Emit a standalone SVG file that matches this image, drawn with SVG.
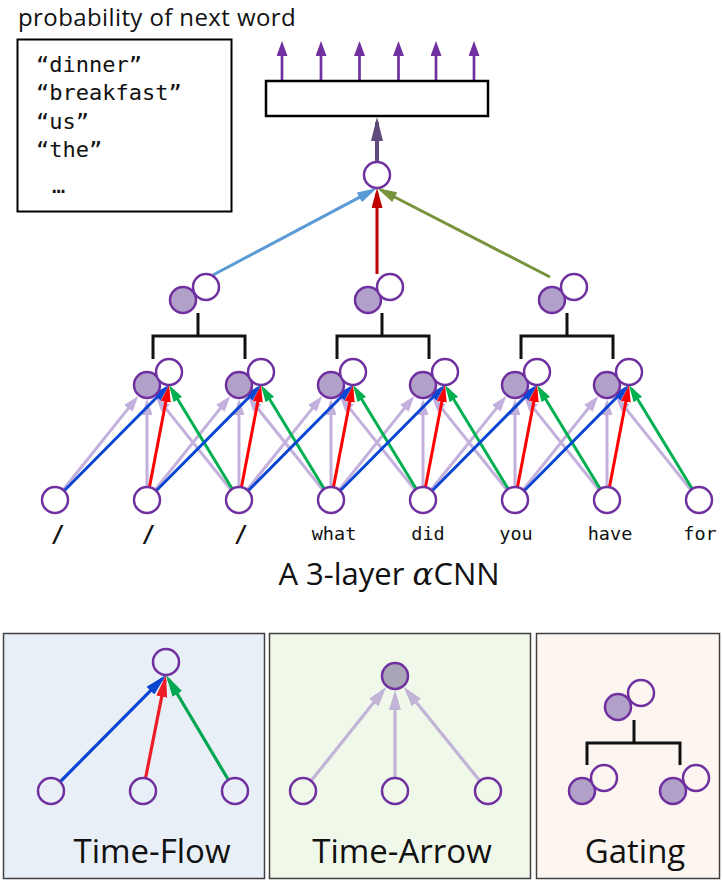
<svg xmlns="http://www.w3.org/2000/svg" width="722" height="883" viewBox="0 0 722 883">
<style>
.n{fill:#fff;stroke:#7030a0;stroke-width:2.5}
.f{fill:#b1a0c7;stroke:#7030a0;stroke-width:2.5}
.br{fill:none;stroke:#111;stroke-width:3}
.blue{stroke:#0a46d2;stroke-width:3;fill:none}
.red{stroke:#ff0000;stroke-width:3;fill:none}
.green{stroke:#00b050;stroke-width:3;fill:none}
.lp{stroke:#c3b0dc;stroke-width:3;fill:none}
.sans{font-family:"Open Sans","Liberation Sans",sans-serif;fill:#111}
.mono{font-family:"DejaVu Sans Mono","Liberation Mono",monospace;fill:#111}
.panel{stroke:#404040;stroke-width:1.5}
</style>
<defs>
<marker id="hBlue" markerUnits="userSpaceOnUse" markerWidth="17" markerHeight="10" refX="12" refY="5" orient="auto"><path d="M0,0 L17,5 L0,10 z" fill="#0a46d2"/></marker>
<marker id="hRed" markerUnits="userSpaceOnUse" markerWidth="17" markerHeight="10" refX="12" refY="5" orient="auto"><path d="M0,0 L17,5 L0,10 z" fill="#ff0000"/></marker>
<marker id="hGreen" markerUnits="userSpaceOnUse" markerWidth="17" markerHeight="10" refX="12" refY="5" orient="auto"><path d="M0,0 L17,5 L0,10 z" fill="#00b050"/></marker>
<marker id="hLp" markerUnits="userSpaceOnUse" markerWidth="16" markerHeight="11" refX="11" refY="5.5" orient="auto"><path d="M0,0 L16,5.5 L0,11 z" fill="#c3b0dc"/></marker>
<marker id="hLp2" markerUnits="userSpaceOnUse" markerWidth="20" markerHeight="12" refX="15" refY="6" orient="auto"><path d="M0,0 L20,6 L0,12 z" fill="#c2b4d6"/></marker>
<marker id="hBlue2" markerUnits="userSpaceOnUse" markerWidth="22" markerHeight="11" refX="17" refY="5.5" orient="auto"><path d="M0,0 L22,5.5 L0,11 z" fill="#0a46d2"/></marker>
<marker id="hRed2" markerUnits="userSpaceOnUse" markerWidth="22" markerHeight="11" refX="17" refY="5.5" orient="auto"><path d="M0,0 L22,5.5 L0,11 z" fill="#ee1c24"/></marker>
<marker id="hGreen2" markerUnits="userSpaceOnUse" markerWidth="22" markerHeight="11" refX="17" refY="5.5" orient="auto"><path d="M0,0 L22,5.5 L0,11 z" fill="#00a651"/></marker>
<marker id="hTB" markerUnits="userSpaceOnUse" markerWidth="20" markerHeight="11" refX="15" refY="5.5" orient="auto"><path d="M0,0 L20,5.5 L0,11 z" fill="#5b9bd5"/></marker>
<marker id="hTR" markerUnits="userSpaceOnUse" markerWidth="20" markerHeight="11" refX="15" refY="5.5" orient="auto"><path d="M0,0 L20,5.5 L0,11 z" fill="#c00000"/></marker>
<marker id="hTG" markerUnits="userSpaceOnUse" markerWidth="20" markerHeight="11" refX="15" refY="5.5" orient="auto"><path d="M0,0 L20,5.5 L0,11 z" fill="#77933c"/></marker>
<marker id="hOut" markerUnits="userSpaceOnUse" markerWidth="24" markerHeight="12" refX="19" refY="6" orient="auto"><path d="M0,0 L24,6 L0,12 z" fill="#604a7b"/></marker>
<marker id="hPur" markerUnits="userSpaceOnUse" markerWidth="15" markerHeight="11" refX="10" refY="5.5" orient="auto"><path d="M0,0 L15,5.5 L0,11 z" fill="#7030a0"/></marker>
</defs>

<g id="panels">
<rect id="panel-time-flow" class="panel" x="3.5" y="633.5" width="261" height="245" fill="#e9eff7"/>
<rect id="panel-time-arrow" class="panel" x="269.5" y="633.5" width="261" height="245" fill="#f0f8e9"/>
<rect id="panel-gating" class="panel" x="536.5" y="633.5" width="183" height="245" fill="#fdf6f0"/>
</g>

<g id="connectors">
<g id="light-purple">
<path class="lp" marker-end="url(#hLp)" d="M55,500 L135.13,399.83"/>
<path class="lp" marker-end="url(#hLp)" d="M147,500 L147,404"/>
<path class="lp" marker-end="url(#hLp)" d="M239,500 L158.87,399.83"/>
<path class="lp" marker-end="url(#hLp)" d="M147,500 L227.13,399.83"/>
<path class="lp" marker-end="url(#hLp)" d="M239,500 L239,404"/>
<path class="lp" marker-end="url(#hLp)" d="M331,500 L250.87,399.83"/>
<path class="lp" marker-end="url(#hLp)" d="M239,500 L319.13,399.83"/>
<path class="lp" marker-end="url(#hLp)" d="M331,500 L331,404"/>
<path class="lp" marker-end="url(#hLp)" d="M423,500 L342.87,399.83"/>
<path class="lp" marker-end="url(#hLp)" d="M331,500 L411.13,399.83"/>
<path class="lp" marker-end="url(#hLp)" d="M423,500 L423,404"/>
<path class="lp" marker-end="url(#hLp)" d="M515,500 L434.87,399.83"/>
<path class="lp" marker-end="url(#hLp)" d="M423,500 L503.13,399.83"/>
<path class="lp" marker-end="url(#hLp)" d="M515,500 L515,404"/>
<path class="lp" marker-end="url(#hLp)" d="M607,500 L526.87,399.83"/>
<path class="lp" marker-end="url(#hLp)" d="M515,500 L595.13,399.83"/>
<path class="lp" marker-end="url(#hLp)" d="M607,500 L607,404"/>
<path class="lp" marker-end="url(#hLp)" d="M699,500 L618.87,399.83"/>
</g>
<g id="green-arrows">
<path class="green" marker-end="url(#hGreen)" d="M239,500 L171.60,389.27"/>
<path class="green" marker-end="url(#hGreen)" d="M331,500 L263.60,389.27"/>
<path class="green" marker-end="url(#hGreen)" d="M423,500 L355.60,389.27"/>
<path class="green" marker-end="url(#hGreen)" d="M515,500 L447.60,389.27"/>
<path class="green" marker-end="url(#hGreen)" d="M607,500 L539.60,389.27"/>
<path class="green" marker-end="url(#hGreen)" d="M699,500 L631.60,389.27"/>
</g>
<g id="red-arrows">
<path class="red" marker-end="url(#hRed)" d="M147,500 L168.06,389.91"/>
<path class="red" marker-end="url(#hRed)" d="M239,500 L260.06,389.91"/>
<path class="red" marker-end="url(#hRed)" d="M331,500 L352.06,389.91"/>
<path class="red" marker-end="url(#hRed)" d="M423,500 L444.06,389.91"/>
<path class="red" marker-end="url(#hRed)" d="M515,500 L536.06,389.91"/>
<path class="red" marker-end="url(#hRed)" d="M607,500 L628.06,389.91"/>
</g>
<g id="blue-arrows">
<path class="blue" marker-end="url(#hBlue)" d="M55,500 L165.48,388.55"/>
<path class="blue" marker-end="url(#hBlue)" d="M147,500 L257.48,388.55"/>
<path class="blue" marker-end="url(#hBlue)" d="M239,500 L349.48,388.55"/>
<path class="blue" marker-end="url(#hBlue)" d="M331,500 L441.48,388.55"/>
<path class="blue" marker-end="url(#hBlue)" d="M423,500 L533.48,388.55"/>
<path class="blue" marker-end="url(#hBlue)" d="M515,500 L625.48,388.55"/>
</g>
<g id="top-arrows">
<path d="M213,275 L372.58,190.34" stroke="#5b9bd5" stroke-width="3" marker-end="url(#hTB)"/>
<path d="M377,274 L377,193" stroke="#c00000" stroke-width="3" marker-end="url(#hTR)"/>
<path d="M550,277 L381.45,190.29" stroke="#77933c" stroke-width="3" marker-end="url(#hTG)"/>
<path d="M377,162 L377,122" stroke="#604a7b" stroke-width="4" marker-end="url(#hOut)"/>
</g>
<g id="output-arrows" stroke="#7030a0" stroke-width="2.7">
<path d="M282,81 L282,46" marker-end="url(#hPur)"/>
<path d="M321,81 L321,46" marker-end="url(#hPur)"/>
<path d="M359.5,81 L359.5,46" marker-end="url(#hPur)"/>
<path d="M398.5,81 L398.5,46" marker-end="url(#hPur)"/>
<path d="M436,81 L436,46" marker-end="url(#hPur)"/>
<path d="M474,81 L474,46" marker-end="url(#hPur)"/>
</g>
<g id="panel-connectors">
<path d="M51,791 L162.48,678.55" stroke="#0a46d2" stroke-width="3.2" marker-end="url(#hBlue2)"/>
<path d="M143,791 L165.03,679.90" stroke="#ee1c24" stroke-width="3.2" marker-end="url(#hRed2)"/>
<path d="M235,791 L168.56,679.30" stroke="#00a651" stroke-width="3.2" marker-end="url(#hGreen2)"/>
<path d="M303,791 L383.13,690.83" stroke="#c2b4d6" stroke-width="3.2" marker-end="url(#hLp2)"/>
<path d="M395,791 L395,695" stroke="#c2b4d6" stroke-width="3.2" marker-end="url(#hLp2)"/>
<path d="M488,791 L406.94,690.78" stroke="#c2b4d6" stroke-width="3.2" marker-end="url(#hLp2)"/>
<path class="br" d="M634,720 L634,743 M587,765 L587,743 L680,743 L680,765"/>
</g>
<g id="brackets">
<path class="br" d="M198,313 L198,336 M153,359 L153,336 L245,336 L245,359"/>
<path class="br" d="M382,313 L382,336 M337,359 L337,336 L429,336 L429,359"/>
<path class="br" d="M567,313 L567,336 M521,359 L521,336 L613,336 L613,359"/>
</g>
</g>

<text class="sans" x="18" y="26" font-size="24" letter-spacing="0.4">probability of next word</text>
<g id="vocab-box">
<rect x="17.5" y="39.5" width="214" height="172" fill="#fff" stroke="#000" stroke-width="2"/>
<text class="mono" font-size="22" x="36" y="72">“dinner”</text>
<text class="mono" font-size="22" x="36" y="100">“breakfast”</text>
<text class="mono" font-size="22" x="36" y="129">“us”</text>
<text class="mono" font-size="22" x="36" y="157">“the”</text>
<text class="mono" font-size="22" x="52" y="193">…</text>
</g>
<g id="output-box"><rect x="266" y="81" width="222" height="35" fill="#fff" stroke="#000" stroke-width="2.5"/></g>
<g id="top-node"><circle class="n" cx="377" cy="175" r="13"/></g>

<g id="l3-pair-1"><circle class="f" cx="183" cy="300" r="13"/><circle class="n" cx="206" cy="287" r="13"/></g>
<g id="l3-pair-2"><circle class="f" cx="368" cy="300" r="13"/><circle class="n" cx="390" cy="287" r="13"/></g>
<g id="l3-pair-3"><circle class="f" cx="552" cy="300" r="13"/><circle class="n" cx="574" cy="287" r="13"/></g>

<g id="l2-pair-1"><circle class="f" cx="147" cy="385" r="13"/><circle class="n" cx="169" cy="372" r="13"/></g>
<g id="l2-pair-2"><circle class="f" cx="239" cy="385" r="13"/><circle class="n" cx="261" cy="372" r="13"/></g>
<g id="l2-pair-3"><circle class="f" cx="331" cy="385" r="13"/><circle class="n" cx="353" cy="372" r="13"/></g>
<g id="l2-pair-4"><circle class="f" cx="423" cy="385" r="13"/><circle class="n" cx="445" cy="372" r="13"/></g>
<g id="l2-pair-5"><circle class="f" cx="515" cy="385" r="13"/><circle class="n" cx="537" cy="372" r="13"/></g>
<g id="l2-pair-6"><circle class="f" cx="607" cy="385" r="13"/><circle class="n" cx="629" cy="372" r="13"/></g>

<g id="input-1"><circle class="n" cx="55" cy="500" r="13"/><text class="mono" font-size="23" font-weight="bold" x="57.7" y="542" text-anchor="middle">/</text></g>
<g id="input-2"><circle class="n" cx="147" cy="500" r="13"/><text class="mono" font-size="23" font-weight="bold" x="148.5" y="542" text-anchor="middle">/</text></g>
<g id="input-3"><circle class="n" cx="239" cy="500" r="13"/><text class="mono" font-size="23" font-weight="bold" x="241" y="542" text-anchor="middle">/</text></g>
<g id="input-4"><circle class="n" cx="331" cy="500" r="13"/><text class="mono" font-size="18.5" x="334" y="540" text-anchor="middle">what</text></g>
<g id="input-5"><circle class="n" cx="423" cy="500" r="13"/><text class="mono" font-size="18.5" x="428" y="540" text-anchor="middle">did</text></g>
<g id="input-6"><circle class="n" cx="515" cy="500" r="13"/><text class="mono" font-size="18.5" x="516" y="540" text-anchor="middle">you</text></g>
<g id="input-7"><circle class="n" cx="607" cy="500" r="13"/><text class="mono" font-size="18.5" x="610" y="540" text-anchor="middle">have</text></g>
<g id="input-8"><circle class="n" cx="699" cy="500" r="13"/><text class="mono" font-size="18.5" x="700" y="540" text-anchor="middle">for</text></g>

<text class="sans" x="389" y="585" font-size="31" text-anchor="middle">A 3-layer <tspan font-family="DejaVu Serif" font-style="italic">α</tspan>CNN</text>

<g id="time-flow">
<circle cx="166" cy="662" r="13" fill="#e9eff7" stroke="#7030a0" stroke-width="2.5"/>
<circle cx="51" cy="791" r="13" fill="#e9eff7" stroke="#7030a0" stroke-width="2.5"/>
<circle cx="143" cy="791" r="13" fill="#e9eff7" stroke="#7030a0" stroke-width="2.5"/>
<circle cx="235" cy="791" r="13" fill="#e9eff7" stroke="#7030a0" stroke-width="2.5"/>
<text class="sans" x="152" y="863" font-size="33" text-anchor="middle">Time-Flow</text>
</g>
<g id="time-arrow">
<circle cx="395" cy="676" r="13" fill="#aaa5b7" stroke="#7030a0" stroke-width="2.5"/>
<circle cx="303" cy="791" r="13" fill="#f0f8e9" stroke="#7030a0" stroke-width="2.5"/>
<circle cx="395" cy="791" r="13" fill="#f0f8e9" stroke="#7030a0" stroke-width="2.5"/>
<circle cx="488" cy="791" r="13" fill="#f0f8e9" stroke="#7030a0" stroke-width="2.5"/>
<text class="sans" x="402" y="863" font-size="33" text-anchor="middle">Time-Arrow</text>
</g>
<g id="gating">
<circle class="f" cx="618" cy="707" r="13"/><circle cx="641" cy="693" r="13" fill="#fdf6f0" stroke="#7030a0" stroke-width="2.5"/>
<circle class="f" cx="582" cy="791" r="13"/><circle cx="604" cy="778" r="13" fill="#fdf6f0" stroke="#7030a0" stroke-width="2.5"/>
<circle class="f" cx="673" cy="791" r="13"/><circle cx="696" cy="778" r="13" fill="#fdf6f0" stroke="#7030a0" stroke-width="2.5"/>
<text class="sans" x="635" y="863" font-size="33" text-anchor="middle">Gating</text>
</g>
</svg>
